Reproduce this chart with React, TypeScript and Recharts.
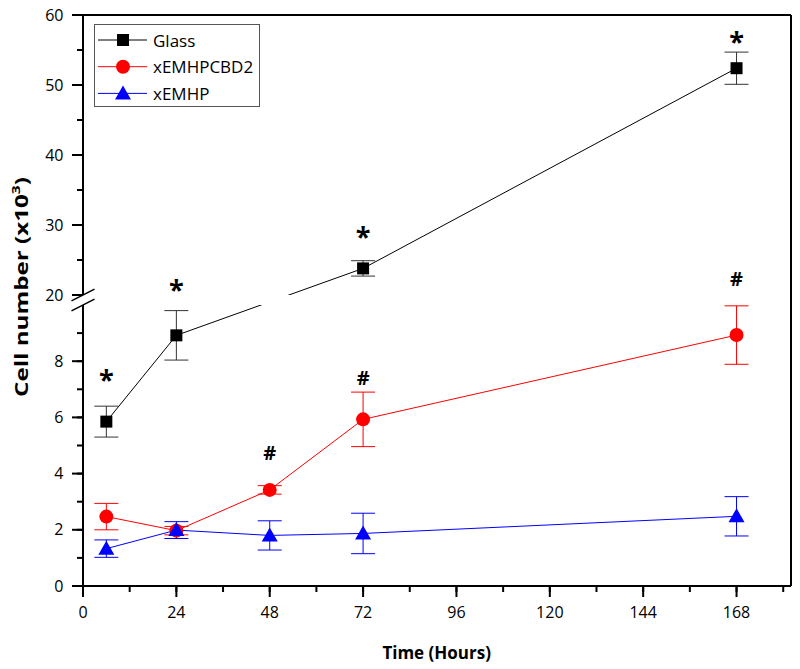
import React from 'react';
import {
  ComposedChart,
  Line,
  Scatter,
  XAxis,
  YAxis,
  ErrorBar,
  ReferenceArea,
  ReferenceLine,
  Legend,
  Label,
} from 'recharts';

const FONT = '"Open Sans", "DejaVu Sans", sans-serif';

// ---- categories (time, hours)
const hours = [6, 24, 48, 72, 168];

// ---- series values (cell number, x10^3) and their error (SD)
const glassMean: (number | null)[] = [5.85, 8.92, null, 23.8, 52.4];
const glassSD: (number | null)[] = [0.55, 0.88, null, 1.1, 2.3];
const cbd2Mean: (number | null)[] = [2.47, 1.97, 3.42, 5.93, 8.93];
const cbd2SD: (number | null)[] = [0.47, 0.15, 0.15, 0.97, 1.04];
const emhpMean: (number | null)[] = [1.33, 1.99, 1.8, 1.87, 2.48];
const emhpSD: (number | null)[] = [0.31, 0.3, 0.52, 0.72, 0.7];

// ---- significance annotation heights (in cell-number units)
const glassStarAt: (number | null)[] = [7.5, 21.4, null, 29.0, 56.9];
const cbd2HashAt: (number | null)[] = [null, null, 4.74, 7.4, 22.3];

// ---- ticks
const xMajorTicks = [0, 24, 48, 72, 96, 120, 144, 168];
const xMinorTicks = [12, 36, 60, 84, 108, 132, 156, 180];
const yMajorTicks = [0, 2, 4, 6, 8, 20, 30, 40, 50, 60];
const yMinorTicks = [1, 3, 5, 7, 9, 25, 35, 45, 55];

const seriesNames = ['Glass', 'xEMHPCBD2', 'xEMHP'];
const seriesColors = ['#000000', '#ff0000', '#0000ff'];
const seriesShapes = ['square', 'circle', 'triangle'];

// ---- broken y axis: 0..10 (lower) | gap | 20..60 (upper, compressed)
const LOW_TOP = 10;
const HIGH_BOTTOM = 20;
const HIGH_TOP = 60;
const GAP = 0.356;
const HIGH_SCALE = 0.2491;
const X_MAX = 182;

const MINOR_LEN = 6;
const MAJOR_LEN = 11;

const toAxis = (v: number) => {
  if (v <= LOW_TOP) return v;
  if (v >= HIGH_BOTTOM) return LOW_TOP + GAP + (v - HIGH_BOTTOM) * HIGH_SCALE;
  return LOW_TOP + (GAP * (v - LOW_TOP)) / (HIGH_BOTTOM - LOW_TOP);
};
const Y_MAX = toAxis(HIGH_TOP);

const errPair = (v: number | null, e: number | null) =>
  v == null || e == null ? null : [toAxis(v) - toAxis(v - e), toAxis(v + e) - toAxis(v)];

const data = hours.map((t, i) => ({
  t,
  glass: glassMean[i] == null ? null : toAxis(glassMean[i] as number),
  glassErr: errPair(glassMean[i], glassSD[i]),
  cbd2: cbd2Mean[i] == null ? null : toAxis(cbd2Mean[i] as number),
  cbd2Err: errPair(cbd2Mean[i], cbd2SD[i]),
  emhp: emhpMean[i] == null ? null : toAxis(emhpMean[i] as number),
  emhpErr: errPair(emhpMean[i], emhpSD[i]),
}));

const starData = hours
  .map((t, i) => ({ t, y: glassStarAt[i] }))
  .filter((d) => d.y != null)
  .map((d) => ({ t: d.t, y: toAxis(d.y as number) }));
const hashData = hours
  .map((t, i) => ({ t, y: cbd2HashAt[i] }))
  .filter((d) => d.y != null)
  .map((d) => ({ t: d.t, y: toAxis(d.y as number) }));

const Marker = ({ kind, cx, cy, color }: { kind: string; cx: number; cy: number; color: string }) => {
  if (kind === 'square') return <rect x={cx - 6} y={cy - 6} width={12} height={12} fill={color} />;
  if (kind === 'circle') return <circle cx={cx} cy={cy} r={7} fill={color} />;
  return (
    <polygon
      points={`${cx},${cy - 8} ${cx - 8},${cy + 6} ${cx + 8},${cy + 6}`}
      fill={color}
    />
  );
};

const makeDot = (kind: string, color: string) => (props: any) => {
  const { cx, cy, index, value } = props;
  if (cx == null || cy == null || value == null || !isFinite(cx) || !isFinite(cy)) {
    return <g key={`dot-${kind}-${index}`} />;
  }
  return (
    <g key={`dot-${kind}-${index}`}>
      <Marker kind={kind} cx={cx} cy={cy} color={color} />
    </g>
  );
};

// custom ticks: the native tick line (MINOR_LEN) is drawn by recharts for every tick;
// the component extends major ticks to MAJOR_LEN and writes their labels.
const yLabelMap = new Map(yMajorTicks.map((v) => [toAxis(v).toFixed(4), String(v)]));
const YTick = (props: any) => {
  const x = Number(props.x);
  const y = Number(props.y);
  const label = yLabelMap.get(Number(props.payload.value).toFixed(4));
  const major = label !== undefined;
  const axisX = x + MINOR_LEN;
  return (
    <g>
      {major && (
        <path d={`M${axisX - MAJOR_LEN},${y}H${axisX}`} stroke="#000000" strokeWidth={2} fill="none" />
      )}
      {major && (
        <text x={axisX - 19.5} y={y + 5.7} textAnchor="end" fontFamily={FONT} fontSize={16} fill="#000">
          {label}
        </text>
      )}
    </g>
  );
};

const xMajorSet = new Set(xMajorTicks);
const XTick = (props: any) => {
  const x = Number(props.x);
  const y = Number(props.y);
  const major = xMajorSet.has(props.payload.value);
  const axisY = y - MINOR_LEN;
  return (
    <g>
      {major && (
        <path d={`M${x},${axisY}V${axisY + MAJOR_LEN}`} stroke="#000000" strokeWidth={2} fill="none" />
      )}
      {major && (
        <text x={x} y={axisY + 31.5} textAnchor="middle" fontFamily={FONT} fontSize={16} fill="#000">
          {props.payload.value}
        </text>
      )}
    </g>
  );
};

const StarShape = (props: any) => (
  <text x={props.cx} y={props.cy + 14} textAnchor="middle" fontFamily={FONT} fontWeight="bold" fontSize={27} fill="#000">
    *
  </text>
);
const HashShape = (props: any) => (
  <text x={props.cx} y={props.cy + 7} textAnchor="middle" fontFamily={FONT} fontWeight="bold" fontSize={20} fill="#000">
    #
  </text>
);

const LegendBox = () => (
  <svg width={166} height={83} style={{ display: 'block' }}>
    <rect x={0.5} y={0.5} width={165} height={82} fill="#fff" stroke="#555" strokeWidth={1} />
    {seriesNames.map((name, i) => {
      const cy = 16 + i * 26.7;
      return (
        <g key={name}>
          <line x1={4} x2={53} y1={cy} y2={cy} stroke={seriesColors[i]} strokeWidth={1} />
          <Marker kind={seriesShapes[i]} cx={29} cy={cy} color={seriesColors[i]} />
          <text x={59} y={cy + 6.5} fontFamily={FONT} fontSize={17} fill="#000">
            {name}
          </text>
        </g>
      );
    })}
  </svg>
);

const YTitle = () => (
  <text
    transform="translate(28, 287) rotate(-90)"
    textAnchor="middle"
    fontFamily={FONT}
    fontWeight="bold"
    fontSize={17}
    fill="#000"
    textLength={220}
    lengthAdjust="spacingAndGlyphs"
  >
    Cell number (x10
    <tspan fontSize={11} dy={-8}>3</tspan>
    <tspan dy={8}>)</tspan>
  </text>
);

const XTitle = () => (
  <text x={436.7} y={658.5} textAnchor="middle" fontFamily={FONT} fontWeight="bold" fontSize={17} fill="#000">
    Time (Hours)
  </text>
);

export default function App() {
  const yTicks = [...yMajorTicks, ...yMinorTicks].map(toAxis).sort((a, b) => a - b);
  const xTicks = [...xMajorTicks, ...xMinorTicks].sort((a, b) => a - b);
  const slashDX = 2.96;
  const slashDY = 0.21;
  return (
    <div style={{ position: 'absolute', left: 0, top: 0, width: 800, height: 669, background: '#fff' }}>
      <ComposedChart width={800} height={669} data={data} margin={{ top: 15, right: 9, left: 0, bottom: 0 }}>
        <XAxis
          dataKey="t"
          type="number"
          domain={[0, X_MAX]}
          ticks={xTicks}
          interval={0}
          tickLine={{ stroke: '#000', strokeWidth: 2 }}
          tickSize={MINOR_LEN}
          tickMargin={0}
          tick={<XTick />}
          height={83}
          axisLine={{ stroke: '#000', strokeWidth: 2 }}
          allowDataOverflow
        >
          <Label content={<XTitle />} />
        </XAxis>
        <YAxis
          type="number"
          domain={[0, Y_MAX]}
          ticks={yTicks}
          interval={0}
          tickLine={{ stroke: '#000', strokeWidth: 2 }}
          tickSize={MINOR_LEN}
          tickMargin={0}
          tick={<YTick />}
          width={83}
          axisLine={false}
          allowDataOverflow
        >
          <Label content={<YTitle />} />
        </YAxis>

        <Line
          type="linear"
          dataKey="glass"
          name={seriesNames[0]}
          stroke={seriesColors[0]}
          strokeWidth={1}
          connectNulls
          dot={makeDot('square', seriesColors[0])}
          activeDot={false}
          isAnimationActive={false}
        >
          <ErrorBar dataKey="glassErr" width={12} stroke="#333" strokeWidth={1} direction="y" isAnimationActive={false} />
        </Line>
        <Line
          type="linear"
          dataKey="cbd2"
          name={seriesNames[1]}
          stroke={seriesColors[1]}
          strokeWidth={1}
          dot={makeDot('circle', seriesColors[1])}
          activeDot={false}
          isAnimationActive={false}
        >
          <ErrorBar dataKey="cbd2Err" width={12} stroke={seriesColors[1]} strokeWidth={1} direction="y" isAnimationActive={false} />
        </Line>
        <Line
          type="linear"
          dataKey="emhp"
          name={seriesNames[2]}
          stroke={seriesColors[2]}
          strokeWidth={1}
          dot={makeDot('triangle', seriesColors[2])}
          activeDot={false}
          isAnimationActive={false}
        >
          <ErrorBar dataKey="emhpErr" width={12} stroke={seriesColors[2]} strokeWidth={1} direction="y" isAnimationActive={false} />
        </Line>

        <Scatter data={starData} dataKey="y" shape={<StarShape />} isAnimationActive={false} legendType="none" />
        <Scatter data={hashData} dataKey="y" shape={<HashShape />} isAnimationActive={false} legendType="none" />

        {/* axis break gap */}
        <ReferenceArea
          x1={0}
          x2={X_MAX}
          y1={LOW_TOP}
          y2={LOW_TOP + GAP}
          fill="#fff"
          fillOpacity={1}
          stroke="none"
          ifOverflow="visible"
          zIndex={450}
        />
        {/* broken left axis line */}
        <ReferenceLine segment={[{ x: 0, y: 0 }, { x: 0, y: LOW_TOP }]} stroke="#000" strokeWidth={2} ifOverflow="visible" zIndex={500} />
        <ReferenceLine segment={[{ x: 0, y: LOW_TOP + GAP }, { x: 0, y: Y_MAX }]} stroke="#000" strokeWidth={2} ifOverflow="visible" zIndex={500} />
        <ReferenceLine
          segment={[{ x: -slashDX, y: LOW_TOP - slashDY }, { x: slashDX, y: LOW_TOP + slashDY }]}
          stroke="#000"
          strokeWidth={1.5}
          ifOverflow="visible"
          zIndex={500}
        />
        <ReferenceLine
          segment={[{ x: -slashDX, y: LOW_TOP + GAP - slashDY }, { x: slashDX, y: LOW_TOP + GAP + slashDY }]}
          stroke="#000"
          strokeWidth={1.5}
          ifOverflow="visible"
          zIndex={500}
        />
        {/* frame: top & right */}
        <ReferenceLine y={Y_MAX} stroke="#000" strokeWidth={2} ifOverflow="visible" zIndex={500} />
        <ReferenceLine x={X_MAX} stroke="#000" strokeWidth={2} ifOverflow="visible" zIndex={500} />

        <Legend
          layout="vertical"
          align="center"
          verticalAlign="middle"
          content={<LegendBox />}
          wrapperStyle={{ left: 94, top: 24, width: 166, height: 83 }}
        />
      </ComposedChart>
    </div>
  );
}
